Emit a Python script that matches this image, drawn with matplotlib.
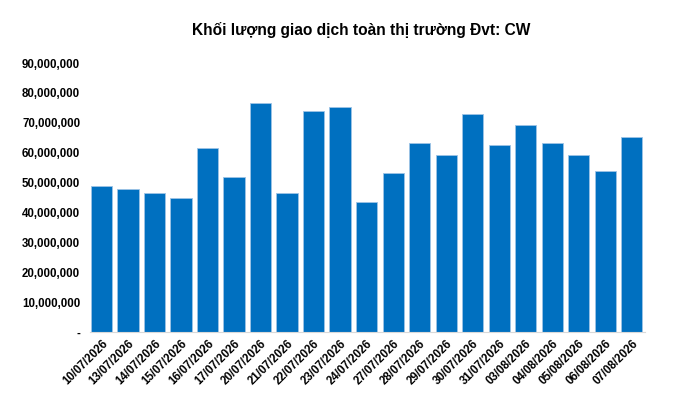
import matplotlib.pyplot as plt
from matplotlib.ticker import FuncFormatter

dates = ['10/07/2026', '13/07/2026', '14/07/2026', '15/07/2026', '16/07/2026',
         '17/07/2026', '20/07/2026', '21/07/2026', '22/07/2026', '23/07/2026',
         '24/07/2026', '27/07/2026', '28/07/2026', '29/07/2026', '30/07/2026',
         '31/07/2026', '03/08/2026', '04/08/2026', '05/08/2026', '06/08/2026',
         '07/08/2026']
volume = [48.7, 47.8, 46.6, 45.0, 61.5, 51.9, 76.7, 46.4, 74.0, 75.4,
          43.6, 53.2, 63.4, 59.1, 72.9, 62.5, 69.4, 63.4, 59.2, 54.0, 65.4]
volume = [v * 1_000_000 for v in volume]
y_ticks = [i * 10_000_000 for i in range(10)]

plt.rcParams['font.family'] = ['Liberation Sans', 'DejaVu Sans']

fig = plt.figure(figsize=(6.81, 4.04), dpi=100)
ax = fig.add_axes([0.132, 0.178, 0.815, 0.666])

x = range(len(dates))
ax.bar(x, volume, width=0.8, color='#0070C0', edgecolor='#9DC3E6', linewidth=0.6)

ax.set_xlim(-0.44, 20.5)
ax.set_ylim(0, 90_000_000)
ax.set_yticks(y_ticks)
ax.yaxis.set_major_formatter(FuncFormatter(lambda v, p: '-' if v == 0 else f'{int(v):,}'))
ax.set_xticks(list(x))
ax.set_xticklabels(dates, rotation=45, ha='right', rotation_mode='anchor')

for lbl in ax.get_xticklabels() + ax.get_yticklabels():
    lbl.set_fontweight('bold')
    lbl.set_fontsize(8.3)

ax.tick_params(axis='both', length=0)
ax.tick_params(axis='y', pad=7)
ax.tick_params(axis='x', pad=4)
for s in ['top', 'right', 'left']:
    ax.spines[s].set_visible(False)
ax.spines['bottom'].set_color('#D9D9D9')

fig.text(0.531, 0.925, 'Khối lượng giao dịch toàn thị trường Đvt: CW',
         ha='center', va='center', fontsize=11.2, fontweight='bold')

plt.savefig('out.png', dpi=100)
plt.close()
